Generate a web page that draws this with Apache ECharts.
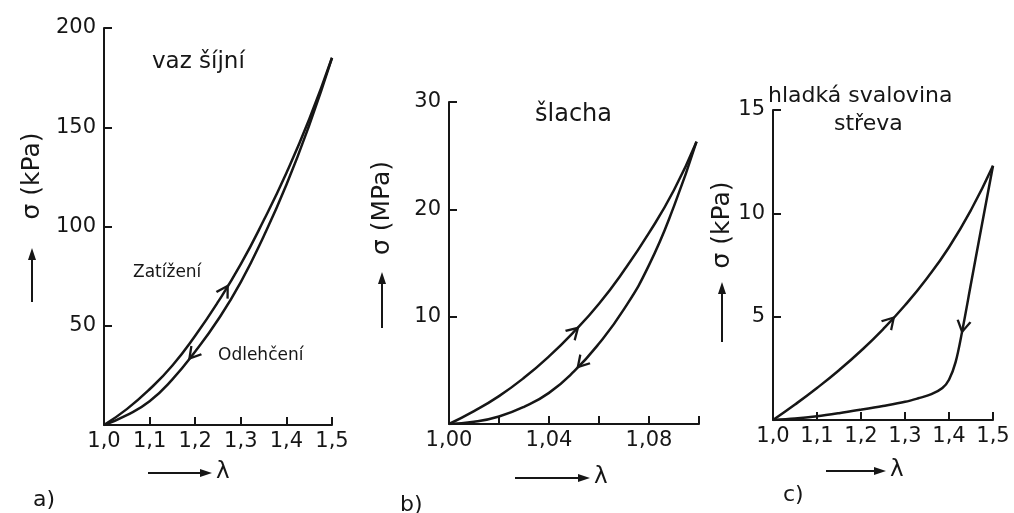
<!DOCTYPE html>
<html>
<head>
<meta charset="utf-8">
<script src="https://cdn.jsdelivr.net/npm/echarts@6/dist/echarts.min.js"></script>
<style>
  html, body { margin: 0; background: #fff; }
  #chart { width: 1014px; height: 513px; }
</style>
</head>
<body>
<div id="chart"></div>
<script>
// a) vaz šíjní  (σ v kPa)
const aLambda = [1.0, 1.05, 1.1, 1.15, 1.2, 1.25, 1.3, 1.35, 1.4, 1.45, 1.5];
const aLoading = [0, 8, 18, 30, 45, 62, 81, 103, 127, 154, 185];
const aUnloading = [0, 5, 12, 23, 37, 53, 72, 95, 121, 151, 185];
const aXTicks = [1.0, 1.1, 1.2, 1.3, 1.4, 1.5];
const aXLabels = ['1,0', '1,1', '1,2', '1,3', '1,4', '1,5'];
const aYTicks = [0, 50, 100, 150, 200];
const aYLabels = ['', '50', '100', '150', '200'];

// b) šlacha  (σ v MPa)
const bLambda = [1.0, 1.01, 1.02, 1.03, 1.04, 1.05, 1.06, 1.07, 1.08, 1.09, 1.099];
const bLoading = [0, 1.2, 2.6, 4.3, 6.3, 8.6, 11.2, 14.3, 17.8, 21.8, 26.3];
const bUnloading = [0, 0.2, 0.7, 1.6, 2.9, 4.9, 7.5, 10.7, 14.8, 20.3, 26.3];
const bXTicks = [1.0, 1.02, 1.04, 1.06, 1.08, 1.1];
const bXLabels = ['1,00', '', '1,04', '', '1,08', ''];
const bYTicks = [0, 10, 20, 30];
const bYLabels = ['', '10', '20', '30'];

// c) hladká svalovina střeva  (σ v kPa)
const cLambda = [1.0, 1.05, 1.1, 1.15, 1.2, 1.25, 1.3, 1.35, 1.4, 1.45, 1.5];
const cLoading = [0, 0.75, 1.55, 2.41, 3.35, 4.39, 5.55, 6.86, 8.36, 10.16, 12.3];
const cUnloadLambda = [1.5, 1.47, 1.45, 1.43, 1.415, 1.4, 1.385, 1.36, 1.33, 1.3, 1.25, 1.2, 1.15, 1.1, 1.05, 1.0];
const cUnloading = [12.3, 8.9, 6.6, 4.3, 2.8, 1.95, 1.55, 1.25, 1.05, 0.88, 0.68, 0.5, 0.33, 0.18, 0.07, 0];
const cXTicks = [1.0, 1.1, 1.2, 1.3, 1.4, 1.5];
const cXLabels = ['1,0', '1,1', '1,2', '1,3', '1,4', '1,5'];
const cYTicks = [0, 5, 10, 15];
const cYLabels = ['', '5', '10', '15'];

// šipky na křivkách: série, poloha λ, směr (+1 zatížení, -1 odlehčení)
const arrowMarks = [
  { grid: 0, xs: aLambda, ys: aLoading, at: 1.265, dir: 1 },
  { grid: 0, xs: aLambda, ys: aUnloading, at: 1.195, dir: -1 },
  { grid: 1, xs: bLambda, ys: bLoading, at: 1.05, dir: 1 },
  { grid: 1, xs: bLambda, ys: bUnloading, at: 1.053, dir: -1 },
  { grid: 2, xs: cLambda, ys: cLoading, at: 1.266, dir: 1 },
  { grid: 2, xs: cUnloadLambda, ys: cUnloading, at: 1.432, dir: -1 }
];

const ink = '#161616';
const font = 'DejaVu Sans';

function zip(xs, ys) {
  return xs.map((x, i) => [x, ys[i]]);
}

function pickLabel(ticks, labels) {
  return function (v) {
    let best = 0;
    ticks.forEach((t, i) => {
      if (Math.abs(t - v) < Math.abs(ticks[best] - v)) best = i;
    });
    return labels[best];
  };
}

function xAxisCfg(idx, min, max, interval, ticks, labels) {
  return {
    type: 'value', gridIndex: idx, min: min, max: max, interval: interval,
    axisLine: { lineStyle: { color: ink, width: 2 } },
    axisTick: { inside: true, length: 8, lineStyle: { color: ink, width: 2 } },
    axisLabel: { color: ink, fontSize: 21, fontFamily: font, margin: 6,
      formatter: pickLabel(ticks, labels) },
    splitLine: { show: false }
  };
}

function yAxisCfg(idx, max, interval, ticks, labels) {
  return {
    type: 'value', gridIndex: idx, min: 0, max: max, interval: interval,
    axisLine: { show: true, lineStyle: { color: ink, width: 2 } },
    axisTick: { show: true, inside: true, length: 8, lineStyle: { color: ink, width: 2 } },
    axisLabel: { color: ink, fontSize: 21, fontFamily: font, margin: 8,
      formatter: pickLabel(ticks, labels) },
    splitLine: { show: false }
  };
}

function curve(idx, data, smooth) {
  return {
    type: 'line', xAxisIndex: idx, yAxisIndex: idx, data: data,
    showSymbol: false, smooth: smooth,
    lineStyle: { color: ink, width: 2.5 }, silent: true
  };
}

function txt(text, x, y, size, extra) {
  return Object.assign({
    type: 'text', x: x, y: y, silent: true,
    style: { text: text, fontSize: size, fontFamily: font, fill: ink,
      align: 'left', verticalAlign: 'middle' }
  }, extra || {});
}

function hArrow(x1, x2, y) {
  return [
    { type: 'line', silent: true, shape: { x1: x1, y1: y, x2: x2 - 8, y2: y },
      style: { stroke: ink, lineWidth: 2 } },
    { type: 'polygon', silent: true,
      shape: { points: [[x2, y], [x2 - 12, y - 4], [x2 - 12, y + 4]] },
      style: { fill: ink } }
  ];
}

function vArrow(x, y1, y2) {
  // y1 spodek, y2 hrot nahoře
  return [
    { type: 'line', silent: true, shape: { x1: x, y1: y1, x2: x, y2: y2 + 8 },
      style: { stroke: ink, lineWidth: 2 } },
    { type: 'polygon', silent: true,
      shape: { points: [[x, y2], [x - 4, y2 + 12], [x + 4, y2 + 12]] },
      style: { fill: ink } }
  ];
}

const rot = { rotation: Math.PI / 2 };
const center = (t, x, y, s) => {
  const o = txt(t, x, y, s, rot);
  o.style.align = 'center';
  return o;
};

const graphics = [].concat(
  txt('vaz šíjní', 152, 62, 23),
  txt('Zatížení', 133, 273, 17),
  txt('Odlehčení', 218, 356, 17),
  txt('šlacha', 535, 115, 24),
  txt('hladká svalovina', 768, 96, 22),
  txt('střeva', 834, 124, 22),
  center('σ (kPa)', 32, 176, 25),
  vArrow(32, 302, 248),
  center('σ (MPa)', 382, 208, 25),
  vArrow(382, 328, 272),
  center('σ (kPa)', 722, 225, 25),
  vArrow(722, 342, 282),
  hArrow(148, 212, 473),
  txt('λ', 216, 472, 23),
  hArrow(515, 590, 478),
  txt('λ', 594, 477, 23),
  hArrow(826, 886, 471),
  txt('λ', 890, 470, 23),
  txt('a)', 33, 500, 22),
  txt('b)', 400, 505, 22),
  txt('c)', 783, 495, 22)
);

const chart = echarts.init(document.getElementById('chart'), null, { renderer: 'canvas' });

const option = {
  backgroundColor: '#ffffff',
  animation: false,
  grid: [
    { left: 104, top: 28, width: 228, height: 397 },
    { left: 449, top: 102, width: 250, height: 322 },
    { left: 773, top: 110, width: 220, height: 310 }
  ],
  xAxis: [
    xAxisCfg(0, 1.0, 1.5, 0.1, aXTicks, aXLabels),
    xAxisCfg(1, 1.0, 1.1, 0.02, bXTicks, bXLabels),
    xAxisCfg(2, 1.0, 1.5, 0.1, cXTicks, cXLabels)
  ],
  yAxis: [
    yAxisCfg(0, 200, 50, aYTicks, aYLabels),
    yAxisCfg(1, 30, 10, bYTicks, bYLabels),
    yAxisCfg(2, 15, 5, cYTicks, cYLabels)
  ],
  series: [
    curve(0, zip(aLambda, aLoading), 0.5),
    curve(0, zip(aLambda, aUnloading), 0.5),
    curve(1, zip(bLambda, bLoading), 0.5),
    curve(1, zip(bLambda, bUnloading), 0.5),
    curve(2, zip(cLambda, cLoading), 0.5),
    curve(2, zip(cUnloadLambda, cUnloading), 0.35),
    { type: 'scatter', xAxisIndex: 0, yAxisIndex: 0, data: [] },
    { type: 'scatter', xAxisIndex: 1, yAxisIndex: 1, data: [] },
    { type: 'scatter', xAxisIndex: 2, yAxisIndex: 2, data: [] }
  ],
  graphic: graphics
};

chart.setOption(option);

// dopočítání natočení šipek podle tečny křivky v pixelech
function interp(xs, ys, at) {
  for (let i = 0; i < xs.length - 1; i++) {
    const lo = Math.min(xs[i], xs[i + 1]);
    const hi = Math.max(xs[i], xs[i + 1]);
    if (at >= lo && at <= hi) {
      const t = (at - xs[i]) / (xs[i + 1] - xs[i]);
      const y = ys[i] + t * (ys[i + 1] - ys[i]);
      const slope = (ys[i + 1] - ys[i]) / (xs[i + 1] - xs[i]);
      return { y: y, slope: slope };
    }
  }
  return { y: ys[ys.length - 1], slope: 0 };
}

const arrowData = [[], [], []];
arrowMarks.forEach(m => {
  const p = interp(m.xs, m.ys, m.at);
  const eps = 0.001 * m.dir;
  const p0 = chart.convertToPixel({ gridIndex: m.grid }, [m.at, p.y]);
  const p1 = chart.convertToPixel({ gridIndex: m.grid }, [m.at + eps, p.y + eps * p.slope]);
  const ang = Math.atan2(-(p1[1] - p0[1]), p1[0] - p0[0]) * 180 / Math.PI;
  arrowData[m.grid].push({ value: [m.at, p.y], symbolRotate: ang - 90 });
});

const arrowStyle = {
  symbol: 'path://M0,10 L5,0 L10,10',
  symbolSize: [13, 11],
  itemStyle: { color: 'rgba(0,0,0,0)', borderColor: ink, borderWidth: 2.2, opacity: 1 },
  silent: true
};

chart.setOption({
  series: [{}, {}, {}, {}, {}, {},
    Object.assign({ data: arrowData[0] }, arrowStyle),
    Object.assign({ data: arrowData[1] }, arrowStyle),
    Object.assign({ data: arrowData[2] }, arrowStyle)
  ]
});
</script>
</body>
</html>
